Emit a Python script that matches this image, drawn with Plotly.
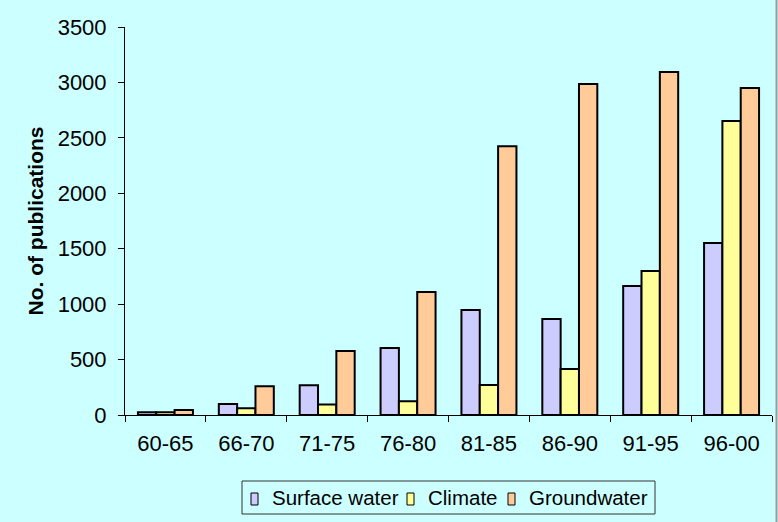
import plotly.graph_objects as go

periods = ["60-65", "66-70", "71-75", "76-80", "81-85", "86-90", "91-95", "96-00"]
surface_water = [25, 100, 268, 605, 947, 866, 1163, 1551]
climate = [25, 60, 95, 123, 270, 415, 1298, 2651]
groundwater = [45, 260, 577, 1110, 2425, 2985, 3093, 2949]

series_names = ["Surface water", "Climate", "Groundwater"]
series_colors = ["#CCCCFF", "#FFFF99", "#FFCC99"]

font_name = "Liberation Sans, Arial, sans-serif"
bg = "#CCFFFF"

# plot area in pixels: x 125..772, y 27..415
L, R, T, B = 125, 772, 27, 415
W, H = 778, 522
def px(x):
    return (x - L) / (R - L)
def py(y):
    return (B - y) / (B - T)

fig = go.Figure()
for name, vals, col in zip(series_names, [surface_water, climate, groundwater], series_colors):
    fig.add_trace(go.Bar(
        x=periods, y=vals, name=name,
        marker=dict(color=col, line=dict(color="black", width=2)),
    ))

fig.update_layout(
    width=W, height=H,
    barmode="group", bargap=0.32, bargroupgap=0,
    plot_bgcolor=bg, paper_bgcolor=bg,
    margin=dict(l=L, r=W - R, t=T, b=H - B, autoexpand=False),
    font=dict(family=font_name, size=22, color="black"),
    showlegend=False,
    xaxis=dict(
        showline=True, linecolor="black", linewidth=1,
        ticks="outside", ticklen=6, tickcolor="black", tickson="boundaries",
        ticklabelstandoff=9, showgrid=False,
    ),
    yaxis=dict(
        range=[0, 3500], dtick=500,
        showline=True, linecolor="black", linewidth=1,
        ticks="outside", ticklen=6, tickcolor="black", ticklabelstandoff=7,
        showgrid=False, zeroline=False,
        title=dict(text="<b>No. of publications</b>", font=dict(size=21), standoff=8),
    ),
)

# legend drawn by hand so its spacing follows the original
fig.add_shape(type="rect", xref="paper", yref="paper",
              x0=px(242), x1=px(655), y0=py(514), y1=py(481),
              line=dict(color="#333333", width=1), fillcolor=bg)
sym_x = [251, 407, 508]
text_x = [270, 426, 527]
for name, col, sx, tx in zip(series_names, series_colors, sym_x, text_x):
    fig.add_shape(type="rect", xref="paper", yref="paper",
                  x0=px(sx), x1=px(sx + 7), y0=py(505), y1=py(493),
                  line=dict(color="black", width=1), fillcolor=col)
    fig.add_annotation(text=name, xref="paper", yref="paper",
                       x=px(tx), y=py(498), xanchor="left", yanchor="middle",
                       showarrow=False, font=dict(size=20.5))

# thin grey edge on the right of the chart area
fig.add_shape(type="line", xref="paper", yref="paper",
              x0=px(776.5), x1=px(776.5), y0=py(H), y1=py(0),
              line=dict(color="#999999", width=2))

fig.write_html("out.html", config={"displayModeBar": False},
               post_script="document.body.style.margin='0';")
